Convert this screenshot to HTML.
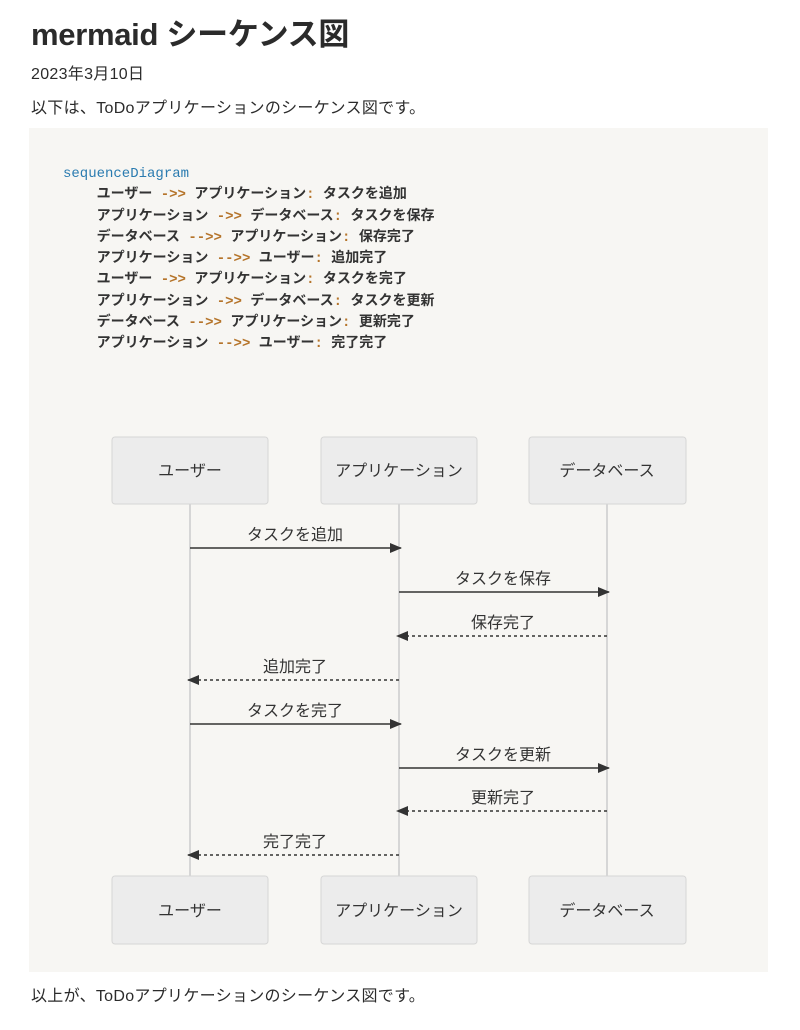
<!DOCTYPE html>
<html><head><meta charset="utf-8"><style>
body{margin:0;background:#fff;width:800px;height:1030px;overflow:hidden;font-family:"Liberation Sans","Noto Sans CJK JP",sans-serif;color:#2b2b2b}
h1{position:absolute;left:31px;top:9px;margin:0;font-size:31px;font-weight:bold;letter-spacing:-0.3px}
.p{position:absolute;left:31px;font-size:16px;letter-spacing:0.3px}
.code{position:absolute;left:29px;top:128px;width:739px;height:844px;background:#f7f6f3}
pre{position:absolute;left:34px;top:36px;margin:0;font-family:"Liberation Mono","Noto Sans CJK JP",monospace;font-size:14px;line-height:21.3px;font-weight:bold;color:#333}
.kw{color:#2a7bb0;font-weight:normal}
.op{color:#b5742a}
</style></head><body>
<h1>mermaid シーケンス図</h1>
<div class="p" style="top:60px">2023年3月10日</div>
<div class="p" style="top:94px">以下は、ToDoアプリケーションのシーケンス図です。</div>
<div class="code">
<pre><span class="kw">sequenceDiagram</span>
    ユーザー <span class="op">->></span> アプリケーション<span class="op">:</span> タスクを追加
    アプリケーション <span class="op">->></span> データベース<span class="op">:</span> タスクを保存
    データベース <span class="op">-->></span> アプリケーション<span class="op">:</span> 保存完了
    アプリケーション <span class="op">-->></span> ユーザー<span class="op">:</span> 追加完了
    ユーザー <span class="op">->></span> アプリケーション<span class="op">:</span> タスクを完了
    アプリケーション <span class="op">->></span> データベース<span class="op">:</span> タスクを更新
    データベース <span class="op">-->></span> アプリケーション<span class="op">:</span> 更新完了
    アプリケーション <span class="op">-->></span> ユーザー<span class="op">:</span> 完了完了</pre>
</div>
<svg width="800" height="1030" style="position:absolute;left:0;top:0" font-family="Liberation Sans, Noto Sans CJK JP, sans-serif" font-size="16" fill="#333">
<defs><marker id="a" markerWidth="12" markerHeight="10" refX="11" refY="5" orient="auto" markerUnits="userSpaceOnUse"><path d="M0,0L12,5L0,10z" fill="#333"/></marker></defs>
<g stroke="#ccc" stroke-width="1.5">
<line x1="190" y1="504" x2="190" y2="876"/><line x1="399" y1="504" x2="399" y2="876"/><line x1="607" y1="504" x2="607" y2="876"/></g>
<g fill="#ececec" stroke="#d6d6d6">
<rect x="112" y="437" width="156" height="67" rx="3"/><rect x="321" y="437" width="156" height="67" rx="3"/><rect x="529" y="437" width="157" height="67" rx="3"/>
<rect x="112" y="876" width="156" height="68" rx="3"/><rect x="321" y="876" width="156" height="68" rx="3"/><rect x="529" y="876" width="157" height="68" rx="3"/></g>
<g text-anchor="middle">
<text x="190" y="476">ユーザー</text><text x="399" y="476">アプリケーション</text><text x="607" y="476">データベース</text>
<text x="190" y="916">ユーザー</text><text x="399" y="916">アプリケーション</text><text x="607" y="916">データベース</text>
<text x="295" y="540">タスクを追加</text><text x="503" y="584">タスクを保存</text><text x="503" y="628">保存完了</text><text x="295" y="672">追加完了</text>
<text x="295" y="716">タスクを完了</text><text x="503" y="760">タスクを更新</text><text x="503" y="803">更新完了</text><text x="295" y="847">完了完了</text>
</g>
<g stroke="#333" stroke-width="1.5" marker-end="url(#a)">
<line x1="190" y1="548" x2="401" y2="548"/>
<line x1="399" y1="592" x2="609" y2="592"/>
<line x1="607" y1="636" x2="397" y2="636" stroke-dasharray="3,3"/>
<line x1="399" y1="680" x2="188" y2="680" stroke-dasharray="3,3"/>
<line x1="190" y1="724" x2="401" y2="724"/>
<line x1="399" y1="768" x2="609" y2="768"/>
<line x1="607" y1="811" x2="397" y2="811" stroke-dasharray="3,3"/>
<line x1="399" y1="855" x2="188" y2="855" stroke-dasharray="3,3"/>
</g></svg>
<div class="p" style="top:982px">以上が、ToDoアプリケーションのシーケンス図です。</div>
</body></html>
